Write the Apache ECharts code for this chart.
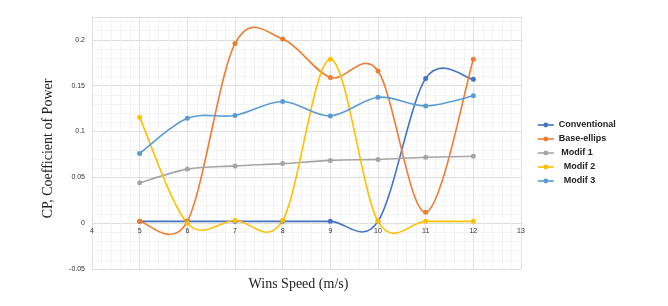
<!DOCTYPE html>
<html><head><meta charset="utf-8">
<script src="https://cdn.jsdelivr.net/npm/echarts@6/dist/echarts.min.js"></script>
<style>html,body{margin:0;padding:0;background:#fff}#c{width:668px;height:306px}</style>
</head><body><div id="c"></div>
<script>
const windSpeed = [5, 6, 7, 8, 9, 10, 11, 12];
const conventional = [0.002, 0.002, 0.002, 0.002, 0.002, 0.002, 0.158, 0.157];
const baseEllips = [0.002, 0.002, 0.196, 0.201, 0.159, 0.166, 0.012, 0.179];
const modif1 = [0.044, 0.059, 0.0625, 0.065, 0.0685, 0.0696, 0.072, 0.073];
const modif2 = [0.1155, 0.0, 0.003, 0.003, 0.179, 0.002, 0.002, 0.002];
const modif3 = [0.076, 0.1144, 0.1176, 0.1328, 0.117, 0.1374, 0.128, 0.139];
const seriesNames = ['Conventional', 'Base-ellips', 'Modif 1', 'Modif 2', 'Modif 3'];
const legendLabels = ['Conventional', 'Base-ellips', ' Modif 1', '  Modif 2', '  Modif 3'];
const seriesData = [conventional, baseEllips, modif1, modif2, modif3];
const colors = ['#4472C4', '#ED7D31', '#A5A5A5', '#FFC000', '#5B9BD5'];

// Excel-style smoothed line (Catmull-Rom Bezier) drawn through the axis scales via api.coord
function curveSeries(i) {
  const ys = seriesData[i];
  const n = windSpeed.length;
  return {
    type: 'custom', name: seriesNames[i] + ' (curve)', coordinateSystem: 'cartesian2d',
    silent: true, z: 2,
    encode: { x: 0, y: 1 },
    data: windSpeed.map((x, j) => [x, ys[j]]),
    renderItem: function (params, api) {
      const j = params.dataIndex;
      if (j >= n - 1) return null;
      const P = k => { const kk = Math.max(0, Math.min(n - 1, k)); return api.coord([windSpeed[kk], ys[kk]]); };
      const p0 = P(j - 1), p1 = P(j), p2 = P(j + 1), p3 = P(j + 2);
      const t = 1 / 6;
      return {
        type: 'bezierCurve',
        shape: {
          x1: p1[0], y1: p1[1], x2: p2[0], y2: p2[1],
          cpx1: p1[0] + (p2[0] - p0[0]) * t, cpy1: p1[1] + (p2[1] - p0[1]) * t,
          cpx2: p2[0] - (p3[0] - p1[0]) * t, cpy2: p2[1] - (p3[1] - p1[1]) * t
        },
        style: { stroke: colors[i], lineWidth: 1.6, fill: null }
      };
    }
  };
}

const chart = echarts.init(document.getElementById('c'));
chart.setOption({
  animation: false,
  backgroundColor: '#fff',
  grid: { left: 92, right: 147, top: 17, bottom: 37, containLabel: false },
  legend: {
    orient: 'vertical', left: 532, top: 115, itemWidth: 16, itemHeight: 6, itemGap: 4,
    lineStyle: { opacity: 1, width: 1.6 },
    textStyle: { fontFamily: 'Liberation Sans, Arial', fontWeight: 'bold', fontSize: 9, lineHeight: 10, color: '#222' },
    formatter: name => legendLabels[seriesNames.indexOf(name)],
    data: seriesNames
  },
  xAxis: {
    type: 'value', min: 4, max: 13, interval: 1, offset: -46,
    axisLine: { show: false, onZero: false },
    axisTick: { show: false },
    axisLabel: { fontSize: 7, color: '#333', fontFamily: 'Liberation Sans, Arial', margin: 5 },
    splitLine: { show: true, lineStyle: { color: '#e2e2e2' } },
    minorTick: { show: false, splitNumber: 5 },
    minorSplitLine: { show: true, lineStyle: { color: '#f3f3f3' } }
  },
  yAxis: {
    type: 'value', min: -0.05, max: 0.225, interval: 0.05,
    axisLine: { show: true, onZero: false, lineStyle: { color: '#e0e0e0' } },
    axisTick: { show: false },
    axisLabel: {
      fontSize: 7, color: '#333', fontFamily: 'Liberation Sans, Arial', margin: 7,
      formatter: v => (Math.abs(v - 0.225) < 1e-9 ? '' : String(+v.toFixed(2)))
    },
    splitLine: { show: true, lineStyle: { color: '#dcdcdc' } },
    minorTick: { show: false, splitNumber: 5 },
    minorSplitLine: { show: true, lineStyle: { color: '#f3f3f3' } }
  },
  series: seriesNames.map((n, i) => curveSeries(i)).concat(seriesNames.map((n, i) => ({
    name: n, type: 'line', z: 3,
    data: windSpeed.map((x, j) => [x, seriesData[i][j]]),
    symbol: 'circle', symbolSize: 5,
    lineStyle: { width: 1.6, color: colors[i], opacity: 0 },
    itemStyle: { color: colors[i] },
    emphasis: { disabled: true }
  }))),
  graphic: [
    { type: 'text', x: 48.5, y: 148.5, rotation: Math.PI / 2,
      style: { text: 'CP, Coefficient of Power', font: '14px "Liberation Serif", "Times New Roman", serif', fill: '#222', align: 'center', verticalAlign: 'middle' } },
    { type: 'text', x: 298.5, y: 284, 
      style: { text: 'Wins Speed (m/s)', font: '14px "Liberation Serif", "Times New Roman", serif', fill: '#222', align: 'center', verticalAlign: 'middle' } }
  ]
});
</script></body></html>
